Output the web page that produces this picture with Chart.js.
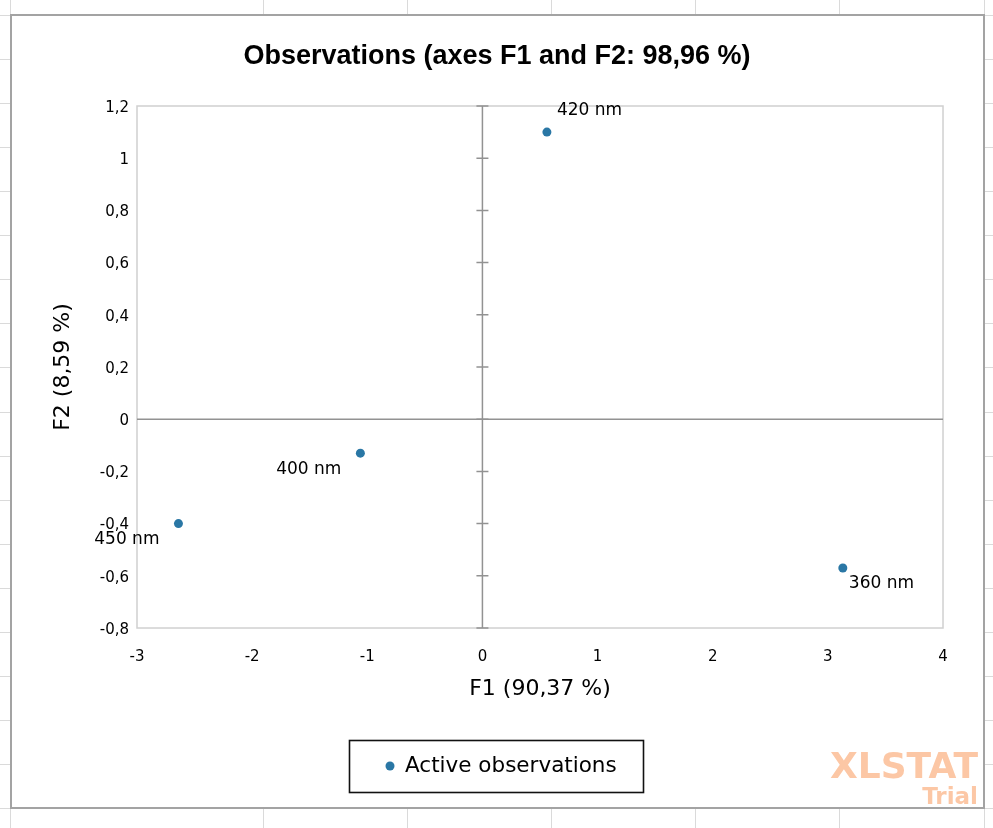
<!DOCTYPE html>
<html>
<head>
<meta charset="utf-8">
<script src="https://cdn.jsdelivr.net/npm/chart.js"></script>
<style>
  html, body { margin: 0; padding: 0; background: #fff; }
  #myChart { display: block; }
</style>
</head>
<body>
<canvas id="myChart" width="993" height="828"></canvas>
<script>
// Data
const obsLabels = ['360 nm', '400 nm', '420 nm', '450 nm'];
const f1Scores = [3.13, -1.06, 0.56, -2.64];
const f2Scores = [-0.57, -0.13, 1.10, -0.40];
const xTickValues = [-3, -2, -1, 0, 1, 2, 3, 4];
const yTickValues = [-0.8, -0.6, -0.4, -0.2, 0, 0.2, 0.4, 0.6, 0.8, 1, 1.2];
const seriesName = 'Active observations';
const chartTitle = 'Observations (axes F1 and F2: 98,96 %)';
const xTitle = 'F1 (90,37 %)';
const yTitle = 'F2 (8,59 %)';

// where each point label sits next to its point
const labelSide = ['below-right', 'below-left', 'above-right', 'below-left'];

const pointColor = '#2a77a5';
const bodyFont = '"DejaVu Sans", sans-serif';

function fmt(v) {
  return String(v).replace('.', ',');
}

// Spreadsheet cells behind the chart + chart area frame
const sheetBackground = {
  id: 'sheetBackground',
  beforeDraw(chart) {
    const ctx = chart.ctx;
    const w = chart.width, h = chart.height;
    ctx.save();
    ctx.fillStyle = '#fff';
    ctx.fillRect(0, 0, w, h);
    ctx.strokeStyle = '#dadada';
    ctx.lineWidth = 1;
    let cols = [10, 263, 407, 551, 695, 839, 984];
    cols.forEach(x => {
      ctx.beginPath();
      ctx.moveTo(x + 0.5, 0);
      ctx.lineTo(x + 0.5, h);
      ctx.stroke();
    });
    for (let y = 15; y < h; y += 44.06) {
      ctx.beginPath();
      ctx.moveTo(0, Math.round(y) + 0.5);
      ctx.lineTo(w, Math.round(y) + 0.5);
      ctx.stroke();
    }
    // chart area
    ctx.fillStyle = '#fff';
    ctx.fillRect(11, 15, 973, 793);
    ctx.strokeStyle = '#a3a3a3';
    ctx.lineWidth = 2;
    ctx.strokeRect(11, 15, 973, 793);
    ctx.restore();
  }
};

// Plot border, axes through zero, cross ticks
const plotFrame = {
  id: 'plotFrame',
  beforeDatasetsDraw(chart) {
    const ctx = chart.ctx;
    const a = chart.chartArea;
    const xs = chart.scales.x, ys = chart.scales.y;
    ctx.save();
    ctx.strokeStyle = '#d0d0d0';
    ctx.lineWidth = 1.5;
    ctx.strokeRect(a.left, a.top, a.right - a.left, a.bottom - a.top);

    const x0 = xs.getPixelForValue(0);
    const y0 = ys.getPixelForValue(0);
    ctx.strokeStyle = '#929292';
    ctx.lineWidth = 1.5;
    ctx.beginPath();
    ctx.moveTo(a.left, y0);
    ctx.lineTo(a.right, y0);
    ctx.moveTo(x0, a.top);
    ctx.lineTo(x0, a.bottom);
    ctx.stroke();

    ctx.beginPath();
    yTickValues.forEach(v => {
      const y = ys.getPixelForValue(v);
      ctx.moveTo(x0 - 6, y);
      ctx.lineTo(x0 + 6, y);
    });
    ctx.stroke();
    ctx.restore();
  }
};

// Point labels
const pointLabels = {
  id: 'pointLabels',
  afterDatasetsDraw(chart) {
    const ctx = chart.ctx;
    const meta = chart.getDatasetMeta(0);
    ctx.save();
    ctx.font = '17px ' + bodyFont;
    ctx.fillStyle = '#000';
    ctx.textBaseline = 'middle';
    meta.data.forEach((pt, i) => {
      let x = pt.x, y = pt.y;
      const side = labelSide[i];
      if (side === 'above-right') { ctx.textAlign = 'left'; x += 10; y -= 22; }
      else if (side === 'below-right') { ctx.textAlign = 'left'; x += 6; y += 16; }
      else { ctx.textAlign = 'right'; x -= 19; y += 16; }
      ctx.fillText(obsLabels[i], x, y);
    });
    ctx.restore();
  }
};

// Boxed legend and the trial watermark
const legendBox = {
  id: 'legendBox',
  afterDraw(chart) {
    const ctx = chart.ctx;
    ctx.save();
    ctx.strokeStyle = '#111';
    ctx.lineWidth = 1.6;
    ctx.strokeRect(349.5, 740.5, 294, 52);
    ctx.fillStyle = pointColor;
    ctx.beginPath();
    ctx.arc(390, 766, 4.5, 0, Math.PI * 2);
    ctx.fill();
    ctx.fillStyle = '#000';
    ctx.font = '21.5px ' + bodyFont;
    ctx.textAlign = 'left';
    ctx.textBaseline = 'middle';
    ctx.fillText(chart.data.datasets[0].label, 405, 766);

    ctx.fillStyle = '#fcc7a5';
    ctx.textAlign = 'right';
    ctx.textBaseline = 'alphabetic';
    ctx.font = 'bold 36px ' + bodyFont;
    ctx.fillText('XLSTAT', 978, 778);
    ctx.font = 'bold 23px ' + bodyFont;
    ctx.fillText('Trial', 978, 804);
    ctx.restore();
  }
};

const ctx = document.getElementById('myChart');

new Chart(ctx, {
  type: 'scatter',
  data: {
    datasets: [{
      label: seriesName,
      data: f1Scores.map((x, i) => ({ x: x, y: f2Scores[i] })),
      backgroundColor: pointColor,
      borderColor: pointColor,
      borderWidth: 0,
      pointRadius: 4.5,
      pointHoverRadius: 4.5
    }]
  },
  options: {
    responsive: false,
    animation: false,
    devicePixelRatio: 1,
    layout: { padding: { left: 51, right: 50, top: 10, bottom: 127 } },
    plugins: {
      legend: { display: false },
      tooltip: { enabled: false },
      title: {
        display: true,
        text: chartTitle,
        color: '#000',
        font: { family: '"Liberation Sans", Arial, sans-serif', size: 27, weight: 'bold', lineHeight: 1.2 },
        padding: { top: 30.8, bottom: 32.8 }
      }
    },
    scales: {
      x: {
        type: 'linear',
        min: -3,
        max: 4,
        afterBuildTicks: s => { s.ticks = xTickValues.map(v => ({ value: v })); },
        afterFit: s => { s.height = 73; },
        grid: { display: false, drawTicks: false },
        border: { display: false },
        ticks: {
          padding: 20,
          maxRotation: 0,
          color: '#000',
          font: { family: bodyFont, size: 15 },
          callback: v => fmt(v)
        },
        title: {
          display: true,
          text: xTitle,
          color: '#000',
          font: { family: bodyFont, size: 22, lineHeight: 1.1 },
          padding: 0
        }
      },
      y: {
        type: 'linear',
        min: -0.8,
        max: 1.2,
        afterBuildTicks: s => { s.ticks = yTickValues.map(v => ({ value: v })); },
        afterFit: s => { s.width = 86; },
        grid: { display: false, drawTicks: false },
        border: { display: false },
        ticks: {
          padding: 8,
          labelOffset: 2,
          color: '#000',
          font: { family: bodyFont, size: 15 },
          callback: v => fmt(v)
        },
        title: {
          display: true,
          text: yTitle,
          color: '#000',
          font: { family: bodyFont, size: 22, lineHeight: 1.1 },
          padding: 0
        }
      }
    }
  },
  plugins: [sheetBackground, plotFrame, pointLabels, legendBox]
});
</script>
</body>
</html>
